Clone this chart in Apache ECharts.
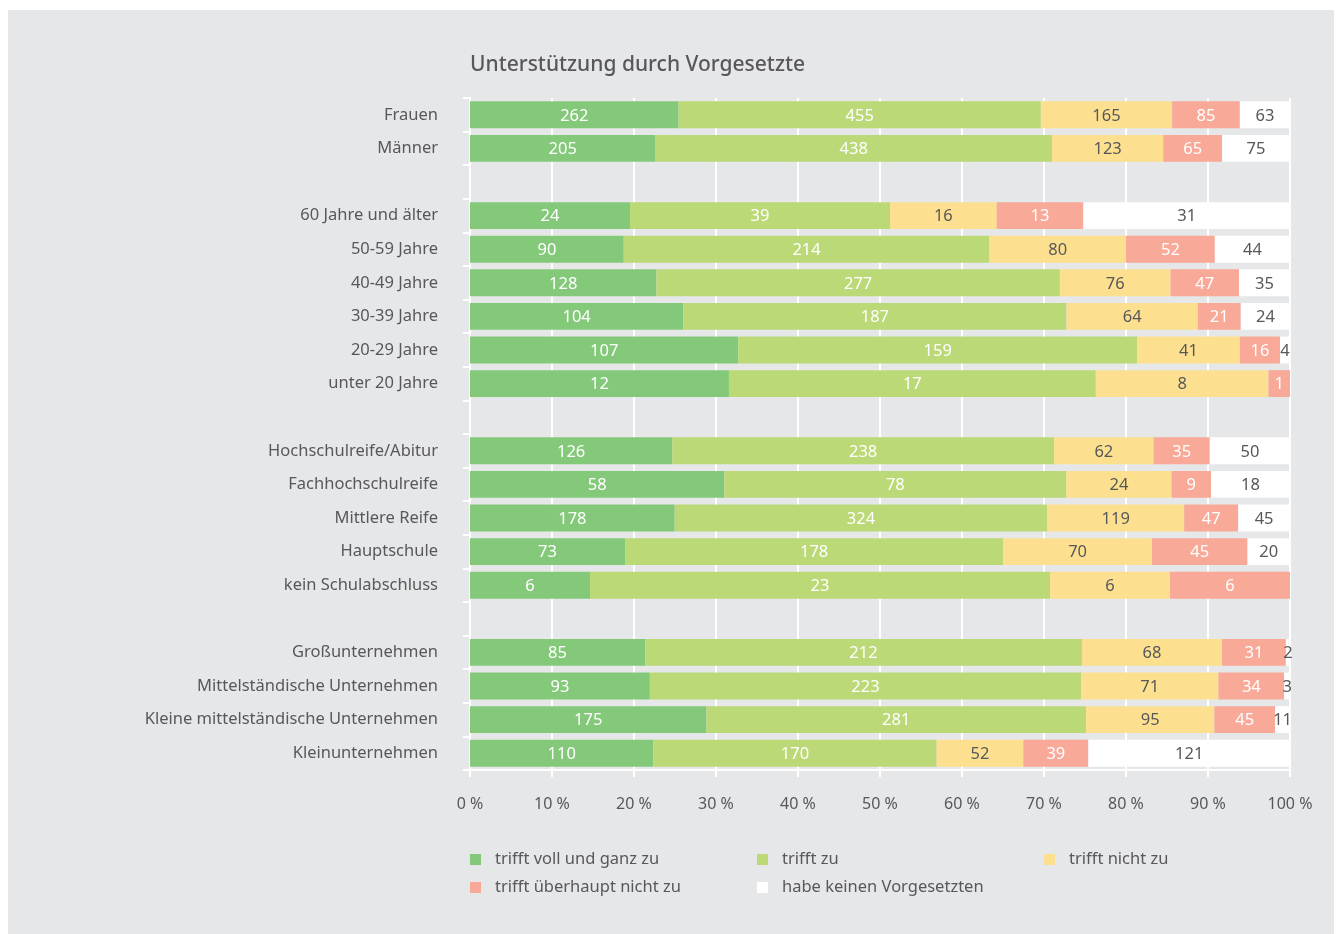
<!DOCTYPE html>
<html>
<head>
<meta charset="utf-8">
<script src="https://cdn.jsdelivr.net/npm/echarts@6/dist/echarts.min.js"></script>
<style>
  html, body { margin: 0; padding: 0; background: #fff; }
  #panel { position: absolute; left: 8px; top: 10px; width: 1326px; height: 924px; background: #e6e7e8; }
  #chart { position: absolute; left: 0; top: 0; width: 1342px; height: 934px; }
</style>
</head>
<body>
<div id="panel"></div>
<div id="chart"></div>
<script>
// categories, gaps are blank rows between groups
const categories = [
  'Frauen', 'Männer', ' ',
  '60 Jahre und älter', '50-59 Jahre', '40-49 Jahre', '30-39 Jahre', '20-29 Jahre', 'unter 20 Jahre', '  ',
  'Hochschulreife/Abitur', 'Fachhochschulreife', 'Mittlere Reife', 'Hauptschule', 'kein Schulabschluss', '   ',
  'Großunternehmen', 'Mittelständische Unternehmen', 'Kleine mittelständische Unternehmen', 'Kleinunternehmen'
];
const seriesNames = ['trifft voll und ganz zu', 'trifft zu', 'trifft nicht zu', 'trifft überhaupt nicht zu', 'habe keinen Vorgesetzten'];

// absolute counts per series (null = gap row)
const vollUndGanz = [262, 205, null, 24, 90, 128, 104, 107, 12, null, 126, 58, 178, 73, 6, null, 85, 93, 175, 110];
const trifftZu    = [455, 438, null, 39, 214, 277, 187, 159, 17, null, 238, 78, 324, 178, 23, null, 212, 223, 281, 170];
const nichtZu     = [165, 123, null, 16, 80, 76, 64, 41, 8, null, 62, 24, 119, 70, 6, null, 68, 71, 95, 52];
const ueberhaupt  = [85, 65, null, 13, 52, 47, 21, 16, 1, null, 35, 9, 47, 45, 6, null, 31, 34, 45, 39];
const keinVorg    = [63, 75, null, 31, 44, 35, 24, 4, 0, null, 50, 18, 45, 20, 0, null, 2, 3, 11, 121];
const xTicks = [0, 10, 20, 30, 40, 50, 60, 70, 80, 90, 100];

const counts = [vollUndGanz, trifftZu, nichtZu, ueberhaupt, keinVorg];
const colors = ['#84c97a', '#bcd977', '#fde08f', '#f8a997', '#ffffff'];
const labelColors = ['#ffffff', '#ffffff', '#58585a', '#ffffff', '#58585a'];
const font = 'Noto Sans';

const totals = categories.map((c, i) => {
  if (vollUndGanz[i] === null) return null;
  return counts.reduce((s, arr) => s + arr[i], 0);
});

let chart = echarts.init(document.getElementById('chart'));

let series = counts.map((arr, k) => ({
  name: seriesNames[k],
  type: 'bar',
  stack: 'total',
  barCategoryGap: '20%',
  itemStyle: { color: colors[k] },
  label: {
    show: true,
    position: 'inside',
    offset: [0, 1],
    color: labelColors[k],
    fontFamily: font,
    fontSize: 16.5,
    formatter: p => {
      let v = arr[p.dataIndex];
      return v ? String(v) : '';
    }
  },
  data: arr.map((v, i) => v === null ? '-' : v / totals[i] * 100)
}));

let legends = seriesNames.map((name, k) => ({
  data: [name],
  left: [465, 752, 1039, 465, 752][k],
  top: [846, 846, 846, 874, 874][k],
  icon: 'rect',
  itemWidth: 11,
  itemHeight: 11,
  itemGap: 10,
  textStyle: { color: '#58585a', fontFamily: font, fontSize: 16.5, padding: [0, 0, 0, 9] },
  selectedMode: false
}));

let option = {
  animation: false,
  title: {
    text: 'Unterstützung durch Vorgesetzte',
    left: 465,
    top: 50,
    textStyle: { color: '#58585a', fontFamily: font, fontSize: 21, fontWeight: 500 }
  },
  legend: legends,
  grid: { left: 470, right: 52, top: 98, bottom: 164 },
  xAxis: {
    type: 'value',
    min: 0,
    max: 100,
    interval: 10,
    axisLine: { show: true, lineStyle: { color: '#ffffff', width: 2 } },
    axisTick: { show: true, length: 7, lineStyle: { color: '#ffffff', width: 2 } },
    axisLabel: {
      margin: 26,
      color: '#58585a',
      fontFamily: font,
      fontSize: 16,
      formatter: v => xTicks.includes(v) ? v + ' %' : ''
    },
    splitLine: { show: true, lineStyle: { color: '#ffffff', width: 2 } }
  },
  yAxis: {
    type: 'category',
    inverse: true,
    data: categories,
    axisLine: { show: true, lineStyle: { color: '#ffffff', width: 2 } },
    axisTick: { show: true, length: 7, lineStyle: { color: '#ffffff', width: 2 } },
    axisLabel: { margin: 32, color: '#58585a', fontFamily: font, fontSize: 16.5 },
    splitLine: { show: false }
  },
  series: series
};
chart.setOption(option);
</script>
</body>
</html>
